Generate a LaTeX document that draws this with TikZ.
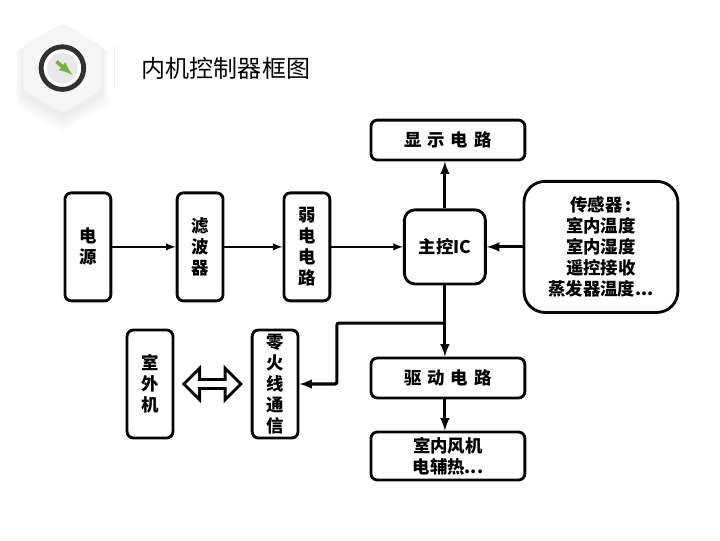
\documentclass[tikz,border=0pt]{standalone}
\usepackage{fontspec}
\setmainfont{Noto Sans CJK SC}
\usetikzlibrary{shapes.geometric, shapes.arrows}
\definecolor{inkblack}{HTML}{050505}
\definecolor{hexgrey}{HTML}{F5F5F5}
\definecolor{ringgrey}{HTML}{303030}
\definecolor{arrowgreen}{HTML}{78B143}

\tikzset{
  block/.style={draw=inkblack, line width=2.7pt, rounded corners=6pt, align=center, inner sep=0,
    font=\bfseries\fontsize{16.5}{20}\selectfont},
  tallblock/.style={block, minimum width=1.53cm, minimum height=3.6cm},
  wideblock/.style={block, minimum width=5.13cm, minimum height=1.33cm},
  flow/.style={draw=inkblack, line width=2.1pt, -latex},
  heavyflow/.style={draw=inkblack, line width=3pt, -latex}
}

\begin{document}
\begin{tikzpicture}[x=1cm, y=1cm]

  \useasboundingbox (0, 0) rectangle (24, 18);

  % Badge
  \foreach \grow/\drop in {3.6/0.34, 3.5/0.30, 3.4/0.26, 3.3/0.22, 3.2/0.18, 3.1/0.14}
    \node[regular polygon, regular polygon sides=6, shape border rotate=30, minimum size=\grow cm,
      inner sep=0, fill=black, opacity=0.012] at (2.08, 15.73-\drop) {};
  \node[regular polygon, regular polygon sides=6, shape border rotate=30, minimum size=3cm,
    inner sep=0, fill=hexgrey, rounded corners=4pt] (badge) at (2.08, 15.73) {};
  \node[circle, minimum size=1.42cm, inner sep=0, draw=ringgrey, line width=4.6pt, fill=white] (ring) at (badge.center) {};
  \node[circle, minimum size=1.02cm, inner sep=0, fill=black!9] (dial) at (badge.center) {};
  \coordinate (tail) at (1.88, 15.95);
  \coordinate (head) at (2.42, 15.5);
  \draw[color=arrowgreen, line width=3.4pt, -latex] (tail) -- (head);
  \draw[line width=0.8pt, color=black!8] (3.83, 16.5) -- (3.83, 15.07);

  % Title
  \node[anchor=west, inner sep=0, font=\fontsize{22.8}{26}\selectfont, text=inkblack]
    (title) at (4.72, 15.73) {内机控制器框图};

  % Top row
  \node[tallblock] (power) at (2.93, 9.77) {电\\源};
  \node[tallblock] (filter) at (6.67, 9.77) {滤\\波\\器};
  \node[tallblock] (weak) at (10.23, 9.77) {弱\\电\\电\\路};
  \node[block, minimum width=2.7cm, minimum height=2.47cm, rounded corners=10pt] (ic) at (14.83, 9.77) {主控IC};
  \node[block, minimum width=5.13cm, minimum height=4.37cm, rounded corners=20pt] (sensor) at (20.03, 9.77)
    {传感器\,:\\室内温度\\室内湿度\\遥控接收\\蒸发器温度...};

  % Right column
  \node[wideblock] (display) at (14.93, 13.33) {显\,\,示\,\,电\,\,路};
  \node[wideblock] (drive) at (14.93, 5.4) {驱\,\,动\,\,电\,\,路};
  \node[wideblock, minimum height=1.6cm] (load) at (14.93, 2.8) {室内风机\\电辅热...};

  % Bottom row
  \node[tallblock] (outdoor) at (5, 5.2) {室\\外\\机};
  \node[tallblock] (comm) at (9.17, 5.2) {零\\火\\线\\通\\信};
  \node[double arrow, draw=inkblack, line width=2.7pt, fill=white, inner sep=0, minimum height=1.9cm,
    minimum width=1.05cm, double arrow head extend=0.12cm, double arrow head indent=0pt] (link) at (7.08, 5.2) {};

  % Connectors
  \draw[flow] (power) -- (filter);
  \draw[flow] (filter) -- (weak);
  \draw[flow] (weak) -- (ic);
  \draw[heavyflow] (sensor) -- (ic);
  \draw[heavyflow] (ic) -- (ic |- display.south);
  \draw[heavyflow] (ic) -- (ic |- drive.north);
  \draw[heavyflow] (ic |- drive.south) -- (ic |- load.north);
  \coordinate (branch) at (14.83, 7.23);
  \coordinate (elbow) at (11.23, 7.23);
  \draw[heavyflow, rounded corners=2pt] (branch) -- (elbow) -- (elbow |- comm.east) -- (comm.east);

\end{tikzpicture}
\end{document}
